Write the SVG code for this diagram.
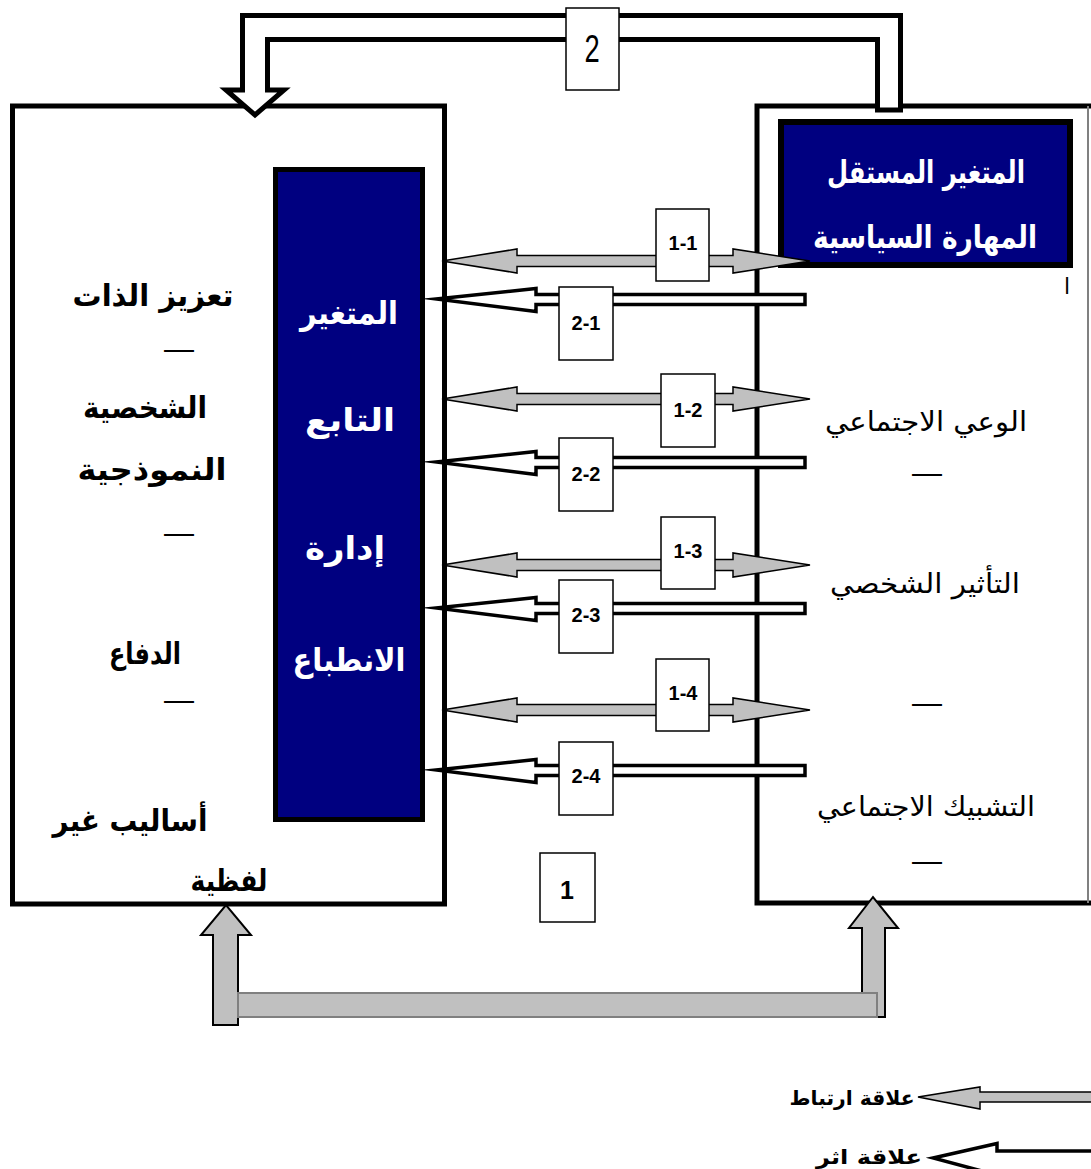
<svg xmlns="http://www.w3.org/2000/svg" width="1091" height="1169" viewBox="0 0 1091 1169">
<style>
.box{fill:#fff;stroke:#000;stroke-width:5}
.blue{fill:#000080;stroke:#000;stroke-width:5}
.ga{fill:#c0c0c0;stroke:#000;stroke-width:1.5;stroke-linejoin:miter}
.wa{fill:#fff;stroke:#000;stroke-width:3.5;stroke-linejoin:miter;stroke-miterlimit:10}
.lbl{fill:#fff;stroke:#000;stroke-width:1.5}
.lt{font-family:"Liberation Sans",Arial,sans-serif;font-weight:bold;font-size:20px;text-anchor:middle;dominant-baseline:central}
.ab{font-family:"DejaVu Sans",sans-serif;font-weight:bold;text-anchor:middle;dominant-baseline:central}
.ar{font-family:"DejaVu Sans",sans-serif;text-anchor:middle;dominant-baseline:central;font-size:27px}
.dash{font-family:"Liberation Sans",sans-serif;font-size:30px;text-anchor:middle;dominant-baseline:central}
.wt{fill:#fff;font-size:32px}
.bt{fill:#000;font-size:30px}
</style>

<g id="left-box">
<rect class="box" x="12.5" y="106" width="432" height="798"/>
<text class="ab bt" x="153" y="295" textLength="161" lengthAdjust="spacingAndGlyphs">تعزيز الذات</text>
<text class="dash" x="179" y="348">—</text>
<text class="ab bt" x="145" y="407" textLength="124" lengthAdjust="spacingAndGlyphs">الشخصية</text>
<text class="ab bt" x="152" y="469" textLength="149" lengthAdjust="spacingAndGlyphs">النموذجية</text>
<text class="dash" x="179" y="532">—</text>
<text class="ab bt" x="145" y="653" textLength="72" lengthAdjust="spacingAndGlyphs">الدفاع</text>
<text class="dash" x="179" y="699">—</text>
<text class="ab bt" x="130" y="820" textLength="155" lengthAdjust="spacingAndGlyphs">أساليب غير</text>
<text class="ab bt" x="229" y="880" textLength="77" lengthAdjust="spacingAndGlyphs">لفظية</text>
</g>

<g id="dependent-var">
<rect class="blue" x="275.5" y="169.5" width="147" height="650"/>
<text class="ab wt" x="349" y="313" textLength="98" lengthAdjust="spacingAndGlyphs">المتغير</text>
<text class="ab wt" x="350" y="420" textLength="90" lengthAdjust="spacingAndGlyphs">التابع</text>
<text class="ab wt" x="345" y="548" textLength="80" lengthAdjust="spacingAndGlyphs">إدارة</text>
<text class="ab wt" x="349" y="660" textLength="113" lengthAdjust="spacingAndGlyphs">الانطباع</text>
</g>

<g id="right-box">
<rect class="box" x="757" y="106" width="345" height="797"/>
<line x1="1088" y1="106" x2="1088" y2="903" stroke="#808080" stroke-width="2"/>
<text class="ar" x="926" y="421" textLength="202" lengthAdjust="spacingAndGlyphs">الوعي الاجتماعي</text>
<text class="dash" x="927" y="472">—</text>
<text class="ar" x="925" y="583" textLength="190" lengthAdjust="spacingAndGlyphs">التأثير الشخصي</text>
<text class="dash" x="927" y="702">—</text>
<text class="ar" x="926" y="806" textLength="218" lengthAdjust="spacingAndGlyphs">التشبيك الاجتماعي</text>
<text class="dash" x="927" y="860">—</text>
<text font-family="DejaVu Sans,sans-serif" font-size="22" x="1067" y="294" text-anchor="middle">ا</text>
</g>

<g id="independent-var">
<rect x="781" y="122" width="289" height="143" fill="#000080" stroke="#000" stroke-width="6"/>
<text class="ab wt" x="926" y="172" textLength="198" lengthAdjust="spacingAndGlyphs">المتغير المستقل</text>
<text class="ab wt" x="925" y="237" textLength="224" lengthAdjust="spacingAndGlyphs">المهارة السياسية</text>
</g>

<g id="connectors">
<polygon class="ga" points="442,261 517,249 517,255.5 733,255.5 733,249 810,261 733,273 733,266.5 517,266.5 517,273"/>
<polygon class="ga" points="442,399 517,387 517,393.5 733,393.5 733,387 810,399 733,411 733,404.5 517,404.5 517,411"/>
<polygon class="ga" points="442,565 517,553 517,559.5 733,559.5 733,553 810,565 733,577 733,570.5 517,570.5 517,577"/>
<polygon class="ga" points="442,710 517,698 517,704.5 733,704.5 733,698 810,710 733,722 733,715.5 517,715.5 517,722"/>
<polygon class="wa" points="436,299 536,288.5 536,294.5 805,294.5 805,304.5 536,304.5 536,311.5"/>
<polygon class="wa" points="436,462 536,451.5 536,457.5 805,457.5 805,467.5 536,467.5 536,474.5"/>
<polygon class="wa" points="436,608 536,597.5 536,603.5 805,603.5 805,613.5 536,613.5 536,620.5"/>
<polygon class="wa" points="436,770 536,759.5 536,765.5 805,765.5 805,775.5 536,775.5 536,782.5"/>
<polygon fill="#fff" stroke="#000" stroke-width="5" stroke-linejoin="miter" points="242.5,15.5 900.5,15.5 900.5,110 877.5,110 877.5,39.5 267.5,39.5 267.5,90 284,90 255,115 226,90 242.5,90"/>
<polygon fill="#c0c0c0" stroke="#000" stroke-width="2" points="862,1017 862,928 849,928 873,897 898,928 885,928 885,1017"/>
<polygon fill="#c0c0c0" stroke="#000" stroke-width="2" points="213,1025 213,935 201,935 226,905 251,935 238,935 238,1025"/>
<rect x="238" y="993" width="639" height="24" fill="#c0c0c0" stroke="#808080" stroke-width="2"/>
</g>

<g id="labels">
<rect class="lbl" x="656" y="209" width="53" height="72"/><text class="lt" x="683" y="243">1-1</text>
<rect class="lbl" x="559" y="287" width="54" height="73"/><text class="lt" x="586" y="323">2-1</text>
<rect class="lbl" x="661" y="374" width="54" height="73"/><text class="lt" x="688" y="410">1-2</text>
<rect class="lbl" x="559" y="438" width="54" height="73"/><text class="lt" x="586" y="474">2-2</text>
<rect class="lbl" x="661" y="517" width="54" height="72"/><text class="lt" x="688" y="551">1-3</text>
<rect class="lbl" x="559" y="580" width="54" height="73"/><text class="lt" x="586" y="615">2-3</text>
<rect class="lbl" x="656" y="659" width="53" height="72"/><text class="lt" x="683" y="693">1-4</text>
<rect class="lbl" x="559" y="742" width="54" height="73"/><text class="lt" x="586" y="776">2-4</text>
<rect class="lbl" x="566" y="8" width="53" height="82"/>
<text font-family="Liberation Sans,sans-serif" font-size="38" text-anchor="middle" transform="translate(592,62) scale(0.72,1)">2</text>
<rect class="lbl" x="540" y="853" width="55" height="69"/><text class="lt" x="567" y="890" style="font-size:25px">1</text>
</g>

<g id="legend">
<polygon class="ga" points="918,1097 980,1087 980,1092 1100,1092 1100,1102 980,1102 980,1109"/>
<text class="ab" x="852" y="1098" font-size="20" textLength="125" lengthAdjust="spacingAndGlyphs">علاقة ارتباط</text>
<polygon class="wa" points="933,1158 997,1143.5 997,1151 1100,1151 1100,1175 997,1175"/>
<text class="ab" x="869" y="1157" font-size="20" textLength="106" lengthAdjust="spacingAndGlyphs">علاقة اثر</text>
</g>
</svg>
